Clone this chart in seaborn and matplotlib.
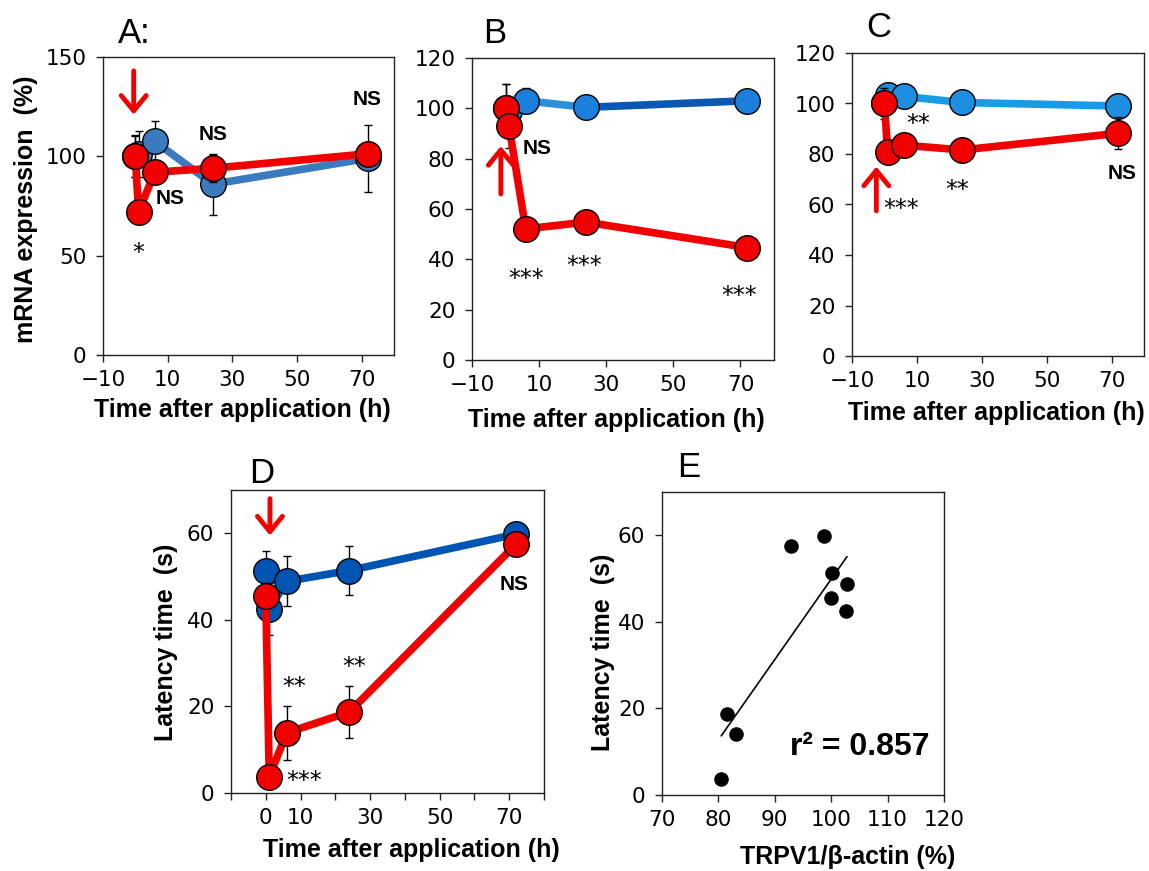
import numpy as np
import matplotlib
matplotlib.use('Agg')
import matplotlib.pyplot as plt
import seaborn as sns

sns.set_style('white')
plt.rcParams['font.family'] = ['DejaVu Sans']
plt.rcParams['axes.unicode_minus'] = True
plt.rcParams['text.color'] = 'black'
plt.rcParams['axes.labelcolor'] = 'black'
plt.rcParams['xtick.color'] = 'black'
plt.rcParams['ytick.color'] = 'black'

# sampling times (h)
time_h = [0, 1, 6, 24, 72]

# A: mRNA expression (%)
a_ctrl = [100, 101, 107.5, 86, 99]
a_ctrl_sd = [10.5, 11.5, 10.5, 15.4, 17]
a_treat = [100, 72, 92, 94, 101.3]
a_treat_sd = [10.4, 3, 3, 6.7, 5]

# B
b_ctrl = [100, 99, 103, 100.4, 103]
b_ctrl_sd = [9.7, 3, 5, 2, 2]
b_treat = [100.1, 93.1, 52.1, 54.8, 44.7]
b_treat_sd = [9.7, 9, 4.7, 2, 2]

# C
c_ctrl = [100, 103.2, 102.8, 100.4, 99]
c_ctrl_sd = [2, 2, 2, 2, 4.2]
c_treat = [100, 80.6, 83.5, 81.6, 88.2]
c_treat_sd = [6, 2, 2, 2, 6.3]

# D: latency time (s)
d_ctrl = [51.2, 42.5, 48.9, 51.4, 59.8]
d_ctrl_sd = [4.8, 6.1, 5.8, 5.6, 1]
d_treat = [45.5, 3.7, 13.9, 18.7, 57.5]
d_treat_sd = [3, 1, 6.3, 6, 1]

# E: correlation
e_trpv1 = [80.5, 81.5, 83.2, 92.9, 98.7, 100.1, 99.9, 102.8, 102.7]
e_latency = [3.7, 18.7, 14, 57.5, 59.8, 51.2, 45.4, 48.8, 42.6]

RED = '#f20000'
LBL = ['Liberation Sans', 'DejaVu Sans']
W, H = 1149, 871


def px_rect(l, t, r, b):
    return [l / W, 1 - b / H, (r - l) / W, (b - t) / H]


def series(ax, y, sd, face, line, z, split=None):
    ax.errorbar(time_h, y, yerr=sd, fmt='none', ecolor='black', elinewidth=1,
                capsize=3, capthick=1, zorder=z - 0.5)
    if split is None:
        sns.lineplot(x=time_h, y=y, ax=ax, color=line, lw=5.5, zorder=z)
    else:
        # two-tone line
        sns.lineplot(x=time_h[:split + 1], y=y[:split + 1], ax=ax, color=line[0], lw=5.5, zorder=z)
        sns.lineplot(x=time_h[split:], y=y[split:], ax=ax, color=line[1], lw=5.5, zorder=z)
    sns.scatterplot(x=time_h, y=y, ax=ax, s=340, color=face, edgecolor='black',
                    linewidth=1, zorder=z + 0.2, legend=False)


def style(ax, ylim, yticks, xlim=(-10, 80)):
    ax.set_xlim(*xlim)
    ax.set_ylim(*ylim)
    ax.set_yticks(yticks)
    for s in ax.spines.values():
        s.set_visible(True)
        s.set_color('#222222')
        s.set_linewidth(1)
    ax.tick_params(direction='out', length=5, width=1, color='#222222',
                   labelsize=15.5, labelcolor='black', bottom=True, left=True)
    ax.tick_params(axis='x', pad=6)
    ax.tick_params(axis='y', pad=7)


def arrow(ax, x, y0, y1):
    ax.annotate('', xy=(x, y1), xytext=(x, y0),
                arrowprops=dict(arrowstyle='->,head_length=0.55,head_width=0.45',
                                color=RED, lw=3.5, mutation_scale=20,
                                shrinkA=0, shrinkB=0), zorder=10)


def mark(ax, x, y, t):
    if t == 'NS':
        ax.text(x, y, t, ha='center', va='center', fontsize=15, fontweight='bold',
                family=LBL, zorder=10)
    else:
        # '*' sits high in the glyph box, so drop the baseline below the centre
        ax.annotate(t, xy=(x, y), xytext=(0, -9.5), textcoords='offset points',
                    ha='center', va='baseline', fontsize=17, family='DejaVu Sans',
                    zorder=10)


def time_label(ax, cx, top):
    ax.set_xlabel('Time after application (h)', fontsize=18, fontweight='bold', family=LBL)
    ax.xaxis.set_label_coords(cx, top)


fig = plt.figure(figsize=(W / 100, H / 100), dpi=100)

# ---- A ----
axA = fig.add_axes(px_rect(103, 57, 394, 355))
series(axA, a_ctrl, a_ctrl_sd, '#3a7abf', '#3a7abf', 2)
series(axA, a_treat, a_treat_sd, RED, RED, 4)
style(axA, (0, 150), [0, 50, 100, 150])
axA.set_xticks([-10, 10, 30, 50, 70])
arrow(axA, -0.5, 143, 121)
mark(axA, 1, 54.7, '*')
mark(axA, 10.9, 78.7, 'NS')
mark(axA, 24, 110.9, 'NS')
mark(axA, 71.6, 128.5, 'NS')
axA.set_ylabel('mRNA expression  (%)', fontsize=18, fontweight='bold', family=LBL)
axA.yaxis.set_label_coords(-0.225, 0.49)
time_label(axA, 0.478, -0.145)

# ---- B ----
axB = fig.add_axes(px_rect(472, 58, 774, 360))
series(axB, b_ctrl, b_ctrl_sd, '#1a80dc', ('#2a8fdc', '#0a58b2'), 2, split=3)
series(axB, b_treat, b_treat_sd, RED, RED, 4)
style(axB, (0, 120), range(0, 121, 20))
axB.set_xticks([-10, 10, 30, 50, 70])
arrow(axB, -1.4, 66, 85)
mark(axB, 9.3, 84.2, 'NS')
mark(axB, 6, 34.5, '***')
mark(axB, 23.4, 40, '***')
mark(axB, 69.7, 28, '***')
time_label(axB, 0.477, -0.16)

# ---- C ----
axC = fig.add_axes(px_rect(852, 53, 1144, 356))
series(axC, c_ctrl, c_ctrl_sd, '#1e8ee0', '#1a9be6', 2)
series(axC, c_treat, c_treat_sd, RED, RED, 4)
style(axC, (0, 120), range(0, 121, 20))
axC.set_xticks([-10, 10, 30, 50, 70])
arrow(axC, -2.5, 57.5, 75)
mark(axC, 10.3, 94.5, '**')
mark(axC, 22.5, 68.2, '**')
mark(axC, 5.1, 60.5, '***')
mark(axC, 73.4, 72.1, 'NS')
time_label(axC, 0.493, -0.15)

# ---- D ----
axD = fig.add_axes(px_rect(231, 490, 544, 793))
series(axD, d_ctrl, d_ctrl_sd, '#0054b4', '#0054b4', 2)
series(axD, d_treat, d_treat_sd, RED, RED, 4)
style(axD, (0, 70), [0, 20, 40, 60])
axD.set_xticks(range(-10, 81, 10))
axD.set_xticklabels(['', '0', '10', '', '30', '', '50', '', '70', ''])
arrow(axD, 1.2, 68, 59.5)
mark(axD, 8.3, 26, '**')
mark(axD, 25.5, 30.6, '**')
mark(axD, 11, 4.3, '***')
mark(axD, 71.4, 48.2, 'NS')
axD.set_ylabel('Latency time  (s)', fontsize=18, fontweight='bold', family=LBL)
axD.yaxis.set_label_coords(-0.17, 0.498)
time_label(axD, 0.575, -0.15)

# ---- E ----
axE = fig.add_axes(px_rect(662, 492, 944, 795))
sns.regplot(x=e_trpv1, y=e_latency, ax=axE, ci=None, color='black',
            scatter_kws={'s': 110, 'alpha': 1, 'linewidths': 0},
            line_kws={'lw': 1.2})
style(axE, (0, 70), [0, 20, 40, 60], xlim=(70, 120))
axE.set_xticks(range(70, 121, 10))
axE.text(105, 11, 'r² = 0.857', ha='center', va='center', fontsize=23,
         fontweight='bold', family=LBL)
axE.set_ylabel('Latency time  (s)', fontsize=18, fontweight='bold', family=LBL)
axE.yaxis.set_label_coords(-0.167, 0.472)
axE.set_xlabel('TRPV1/β-actin (%)', fontsize=18, fontweight='bold', family=LBL)
axE.xaxis.set_label_coords(0.66, -0.165)

# panel letters
for lbl, x, y in [('A:', 118, 43), ('B', 483, 43), ('C', 866, 37), ('D', 249, 483), ('E', 677, 477)]:
    fig.text(x / W, 1 - y / H, lbl, fontsize=25, family=LBL, va='baseline', ha='left')

fig.savefig('out.png', dpi=100)
